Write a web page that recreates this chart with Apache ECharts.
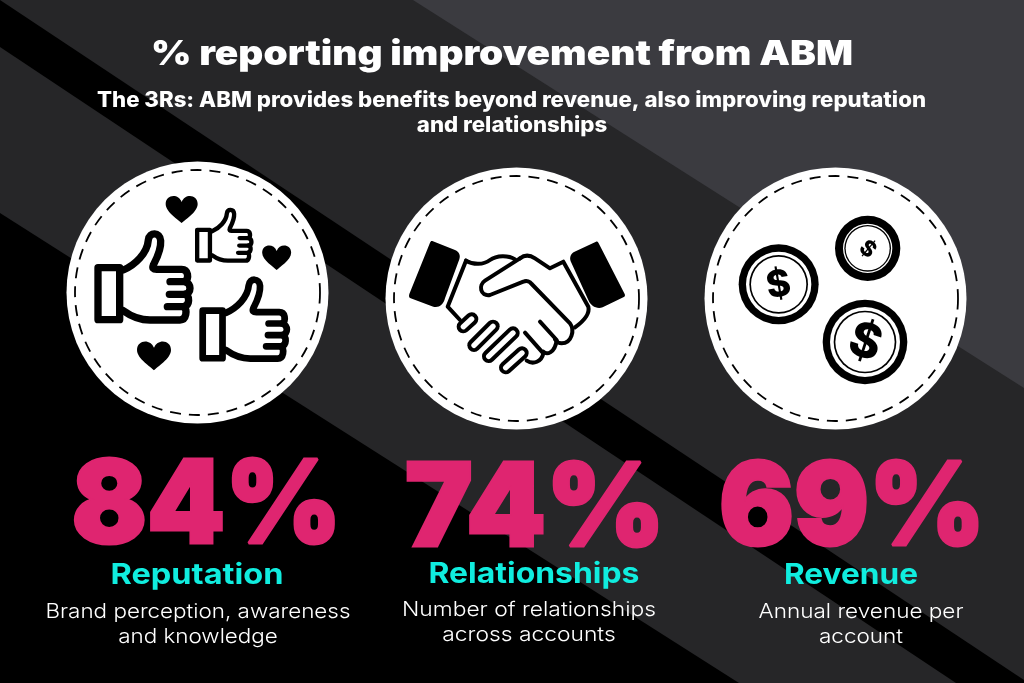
<!DOCTYPE html>
<html>
<head>
<meta charset="utf-8">
<style>html,body{margin:0;padding:0;background:#000}#chart{width:1024px;height:683px}</style>
<script src="https://cdn.jsdelivr.net/npm/echarts@6/dist/echarts.min.js"></script>
</head>
<body>
<div id="chart"></div>
<script>
// data
const categories = ['Reputation', 'Relationships', 'Revenue']
const values = [84, 74, 69]
const descriptions = [
  ['Brand perception, awareness', 'and knowledge'],
  ['Number of relationships', 'across accounts'],
  ['Annual revenue per', 'account']
]
const titleText = '% reporting improvement from ABM'
const subtitleLines = ['The 3Rs: ABM provides benefits beyond revenue, also improving reputation', 'and relationships']

// layout, one entry per column
const pctOffsetX = [1.5, 8, 3]
const pctWidth = [270, 260, 266]
const pctY = [508.5, 511, 510]
const nameOffsetX = [-8, 7, 2]
const nameWidth = [173, 211, 134]
const nameY = [575, 574, 575]
const descOffsetX = [-7, 2, 12]
const descWidth = [305, 254, 205]
const descY = [612, 610, 612]

const FONT = 'Inter, "Noto Sans", sans-serif'
const PINK = '#df2570'
const CYAN = '#10eddf'

// horizontal squeeze so a font fits the width measured in the picture
const ctx = document.createElement('canvas').getContext('2d')
function fitX(text, font, target) {
  ctx.font = font
  return target / ctx.measureText(text).width
}

// the graphic component has no path type, so each icon path gets its own shape
let shapeCount = 0
function pathEl(d, style) {
  const name = 'iconPath' + shapeCount++
  echarts.graphic.registerShape(name, echarts.graphic.extendPath(d))
  return { type: name, style: style }
}

function line(d, width) {
  return pathEl(d, { fill: null, stroke: '#000', lineWidth: width, lineCap: 'round', lineJoin: 'round' })
}

// background bands, edges run at about the same slope across the page
const background = [
  { points: [[0, 0], [1024, 0], [1024, 680]], fill: '#262628' },
  { points: [[0, 47], [956, 683], [739, 683], [0, 213]], fill: '#262628' },
  { points: [[413, 0], [1024, 0], [1024, 388]], fill: '#3b3b40' }
].map(b => ({ type: 'polygon', shape: { points: b.points }, style: { fill: b.fill } }))

function badge(cx, cy) {
  return [
    { type: 'circle', shape: { cx: cx, cy: cy, r: 131 }, style: { fill: '#fff' } },
    { type: 'circle', shape: { cx: cx, cy: cy, r: 122.5 }, style: { fill: null, stroke: '#000', lineWidth: 1.8, lineDash: [11, 8] } }
  ]
}

// thumbs, drawn in 3x crop coordinates
function thumb(x, y, s) {
  const k = s / 3
  return {
    type: 'group',
    x: x, y: y, scaleX: k, scaleY: k,
    children: [
      line('M114 293 L179 293 L179 449 L114 449 Z', 22),
      line('M190 300 C225 285 262 250 265 210 C268 185 300 185 302 212 C304 240 290 265 280 285 C276 295 280 298 290 298 L365 298 C385 298 388 325 375 335 L330 335', 22),
      line('M375 335 C395 340 395 370 375 373 L328 373', 22),
      line('M375 373 C390 378 390 405 372 410 L322 410', 22),
      line('M372 410 C382 420 380 450 360 450 L270 450 C240 450 215 440 190 422', 22)
    ]
  }
}

function heart(cx, cy, w) {
  const s = w / 100
  return {
    type: 'group',
    x: cx, y: cy, scaleX: s, scaleY: s,
    children: [pathEl('M0 44 C-8 34 -50 10 -50 -16 C-50 -46 -10 -50 0 -22 C10 -50 50 -46 50 -16 C50 10 8 34 0 44 Z', { fill: '#000' })]
  }
}

const likeIcons = [
  thumb(60, 170, 1),
  thumb(60 + (405 - 103 * 0.59) / 3, 170 + (173 - 282 * 0.59) / 3, 0.59),
  thumb(60 + (418 - 103 * 0.915) / 3, 170 + (412 - 282 * 0.915) / 3, 0.915),
  heart(60 + 365 / 3, 170 + 117 / 3, 32),
  heart(60 + 650 / 3, 170 + 262 / 3, 29),
  heart(60 + 282 / 3, 170 + 556 / 3, 34)
]

// handshake, same crop coordinates
function capsule(d) {
  return [
    pathEl(d, { fill: null, stroke: '#000', lineWidth: 40, lineCap: 'round' }),
    pathEl(d, { fill: null, stroke: '#fff', lineWidth: 16, lineCap: 'round' })
  ]
}
const shake = {
  type: 'group',
  x: 380, y: 170, scaleX: 1 / 3, scaleY: 1 / 3,
  children: [
    pathEl('M157 213 L225 240 C238 246 242 256 238 268 L195 385 C190 405 175 415 160 410 L92 385 C87 383 86 378 88 372 L150 218 C152 213 154 212 157 213 Z', { fill: '#000' }),
    pathEl('M648 215 L582 246 C572 252 568 262 572 274 L625 390 C632 408 650 418 668 412 L730 382 C735 380 736 376 734 372 L656 220 C654 215 651 214 648 215 Z', { fill: '#000' }),
    line('M258 272 C280 285 310 285 330 270 C350 255 385 255 405 268', 12),
    line('M258 272 L203 410 L240 450', 12),
    line('M420 265 C435 253 450 255 465 265 L510 295 L550 275 L625 410 C630 430 615 450 585 472', 12),
    line('M420 265 L315 332 C295 345 300 380 330 375 L430 335 C440 330 450 335 455 342 L570 460 C585 480 575 520 545 520 C535 520 530 515 525 508', 12),
    line('M480 455 L530 510 C525 550 500 555 490 545', 12),
    line('M435 488 L490 550 C485 575 460 585 440 572', 12)
  ].concat(
    capsule('M250 470 L275 447'),
    capsule('M282 526 L339 469'),
    capsule('M326 559 L399 489'),
    capsule('M377 593 L426 549')
  )
}

function coin(cx, cy, r1, r2, r3, r4, font, deg) {
  const x = 700 + cx / 3
  const y = 170 + cy / 3
  const rings = [[r1, '#000'], [r2, '#fff'], [r3, '#000'], [r4, '#fff']].map(c => ({
    type: 'circle', shape: { cx: x, cy: y, r: c[0] / 3 }, style: { fill: c[1] }
  }))
  rings.push({
    type: 'text', x: x, y: y + 1, rotation: -deg * Math.PI / 180,
    style: { text: '$', font: '800 ' + font + 'px ' + FONT, fill: '#000', align: 'center', verticalAlign: 'middle' }
  })
  return rings
}

const titleFont = '900 34px ' + FONT
const subFont = '800 21px ' + FONT
const subScale = fitX(subtitleLines[0], subFont, 829)
const headline = [
  { type: 'text', x: 502, y: 55, scaleX: fitX(titleText, titleFont, 702),
    style: { text: titleText, font: titleFont, fill: '#fff', align: 'center', verticalAlign: 'middle' } },
  { type: 'text', x: 511.5, y: 101, scaleX: subScale,
    style: { text: subtitleLines[0], font: subFont, fill: '#fff', align: 'center', verticalAlign: 'middle' } },
  { type: 'text', x: 512, y: 126, scaleX: subScale,
    style: { text: subtitleLines[1], font: subFont, fill: '#fff', align: 'center', verticalAlign: 'middle' } }
]

const pctFont = '900 115px ' + FONT
const nameFont = '700 29px ' + FONT
const descFont = '300 20px ' + FONT

function renderColumn(params, api) {
  const i = params.dataIndex
  const x = api.coord([api.value(0), 0])[0]
  const pct = api.value(1) + '%'
  const lines = descriptions[i]
  const descScale = fitX(lines[0], descFont, descWidth[i])
  return {
    type: 'group',
    children: [
      { type: 'text', x: x + pctOffsetX[i], y: pctY[i], scaleX: fitX(pct, pctFont, pctWidth[i]),
        style: { text: pct, font: pctFont, fill: PINK, stroke: PINK, lineWidth: 3, align: 'center', verticalAlign: 'middle' } },
      { type: 'text', x: x + nameOffsetX[i], y: nameY[i], scaleX: fitX(categories[i], nameFont, nameWidth[i]),
        style: { text: categories[i], font: nameFont, fill: CYAN, align: 'center', verticalAlign: 'middle' } },
      { type: 'text', x: x + descOffsetX[i], y: descY[i], scaleX: descScale,
        style: { text: lines[0], font: descFont, fill: '#fff', align: 'center', verticalAlign: 'middle' } },
      { type: 'text', x: x + descOffsetX[i], y: descY[i] + 25, scaleX: descScale,
        style: { text: lines[1], font: descFont, fill: '#fff', align: 'center', verticalAlign: 'middle' } }
    ]
  }
}

const chart = echarts.init(document.getElementById('chart'), null, { renderer: 'canvas' })
chart.setOption({
  animation: false,
  backgroundColor: '#000',
  grid: { left: 44, width: 966, top: 0, height: 683 },
  xAxis: { type: 'category', data: categories, show: false },
  yAxis: { type: 'value', min: 0, max: 100, show: false },
  graphic: {
    elements: [].concat(
      background,
      badge(197.5, 292.5),
      badge(516.5, 298.5),
      badge(835.5, 298.5),
      likeIcons,
      [shake],
      coin(236, 343, 120, 98, 88, 83, 37, -10),
      coin(503, 235, 98, 74, 70, 66, 22, 40),
      coin(495, 516, 127, 105, 94, 89, 48, 18),
      headline
    )
  },
  series: [{
    type: 'custom',
    renderItem: renderColumn,
    encode: { x: 0, y: 1 },
    silent: true,
    clip: false,
    data: values.map((v, i) => [i, v])
  }]
})
</script>
</body>
</html>
